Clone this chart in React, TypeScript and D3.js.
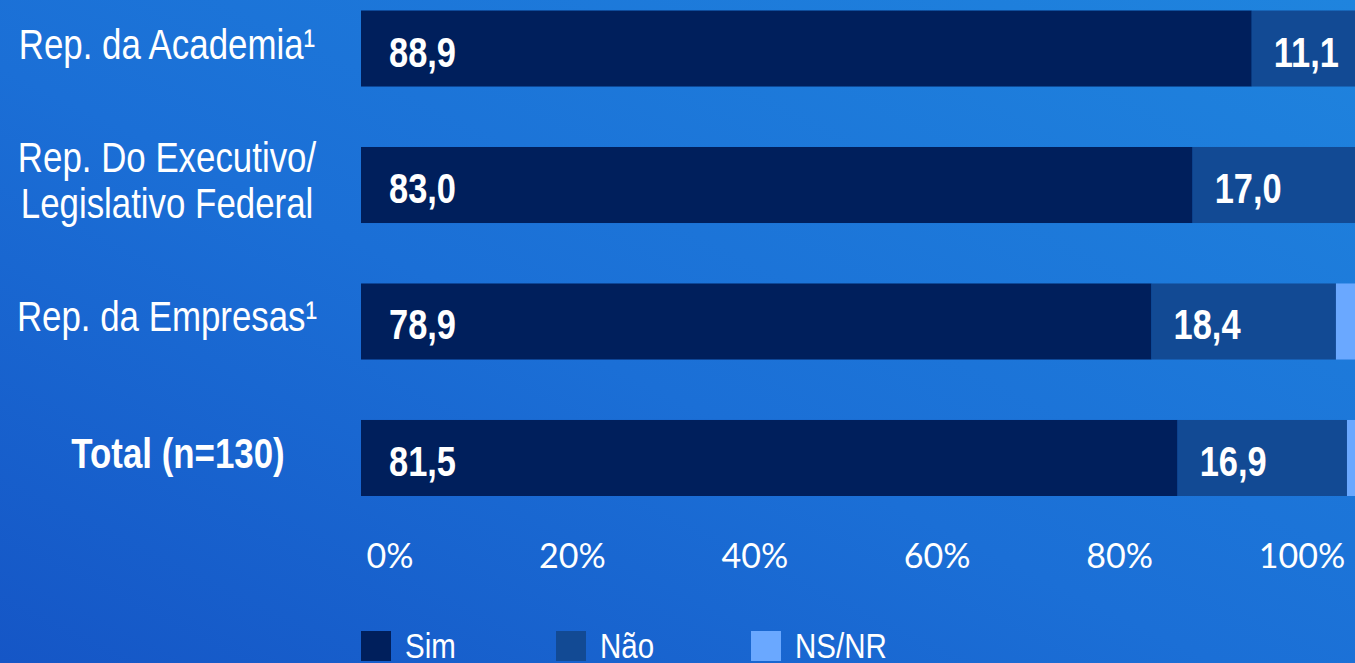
import React from 'react';
import * as d3 from 'd3';

const categories = ['Rep. da Academia¹', 'Rep. Do Executivo/|Legislativo Federal', 'Rep. da Empresas¹', 'Total (n=130)'];
const boldCategory = [false, false, false, true];
const series = ['Sim', 'Não', 'NS/NR'];
const sim = [88.9, 83.0, 78.9, 81.5];
const nao = [11.1, 17.0, 18.4, 16.9];
const nsnr = [0, 0, 2.7, 1.6];
const ticks = [0, 20, 40, 60, 80, 100];
const tickLabels = ['0%', '20%', '40%', '60%', '80%', '100%'];

const W = 1355;
const H = 663;
const colors = ['#001f5c', '#124a94', '#6aa8ff'];
const sans = '"Liberation Sans", Arial, sans-serif';
const SQ = 0.82; // horizontal squeeze to imitate a narrow face

// text drawn with a horizontal squeeze around its anchor
function Narrow(props: { x: number; y: number; size: number; bold?: boolean; anchor?: string; children: React.ReactNode }) {
  return (
    <text transform={`translate(${props.x},${props.y}) scale(${SQ},1)`} fill="#fff" fontFamily={sans}
      fontSize={props.size} fontWeight={props.bold ? 'bold' : 'normal'} textAnchor={props.anchor || 'start'}>
      {props.children}
    </text>
  );
}

export default function App() {
  const x = d3.scaleLinear().domain([0, 100]).range([361, 1363]);
  const tickX = d3.scaleLinear().domain([0, 100]).range([390, 1302]);
  const y = d3.scaleBand().domain(categories).range([10.5, 496]).paddingInner(0.443).paddingOuter(0);
  const legendX = d3.scalePoint().domain(series).range([361, 751]);

  const rows = categories.map((c, i) => ({ '0': sim[i], '1': nao[i], '2': nsnr[i] }));
  const stack = d3.stack().keys(['0', '1', '2'])(rows as any);

  const fmt = (v: number) => v.toFixed(1).replace('.', ',');

  return (
    <svg width={W} height={H} style={{ position: 'absolute', left: 0, top: 0 }}>
      <defs>
        <linearGradient id="bg" x1="0" y1="1" x2="1" y2="0">
          <stop offset="0" stopColor="#1556c6" />
          <stop offset="0.45" stopColor="#1b6fd6" />
          <stop offset="1" stopColor="#1f84de" />
        </linearGradient>
      </defs>
      <rect width={W} height={H} fill="url(#bg)" />

      {stack.map((layer, si) => (
        <g key={si} fill={colors[si]}>
          {layer.map((d, i) => (
            <rect key={i} x={x(d[0])} y={y(categories[i])} width={Math.max(0, x(d[1]) - x(d[0]))} height={y.bandwidth()} />
          ))}
        </g>
      ))}

      {stack.slice(0, 2).map((layer, si) =>
        layer.map((d, i) => (
          <Narrow key={si + '-' + i} x={x(d[0]) + (si === 0 ? 28 : 22)}
            y={(y(categories[i]) as number) + y.bandwidth() / 2 + 18} size={42} bold>
            {fmt(d[1] - d[0])}
          </Narrow>
        ))
      )}

      {categories.map((c, i) => {
        const lines = c.split('|');
        const cy = (y(c) as number) + y.bandwidth() / 2;
        const cx = boldCategory[i] ? 178 : 167;
        return lines.map((l, li) => (
          <Narrow key={c + li} x={cx} y={cy + 10 + (li - (lines.length - 1) / 2) * 46} size={42.5}
            bold={boldCategory[i]} anchor="middle">
            {l}
          </Narrow>
        ));
      })}

      {ticks.map((t, i) => (
        <text key={t} x={tickX(t)} y={568} textAnchor="middle" fill="#fff" fontFamily="Lato, sans-serif" fontSize={34}>
          {tickLabels[i]}
        </text>
      ))}

      {series.map((s, i) => (
        <g key={s}>
          <rect x={legendX(s)} y={631} width={30} height={30} fill={colors[i]} />
          <Narrow x={(legendX(s) as number) + 44} y={658} size={36}>{s}</Narrow>
        </g>
      ))}
    </svg>
  );
}
